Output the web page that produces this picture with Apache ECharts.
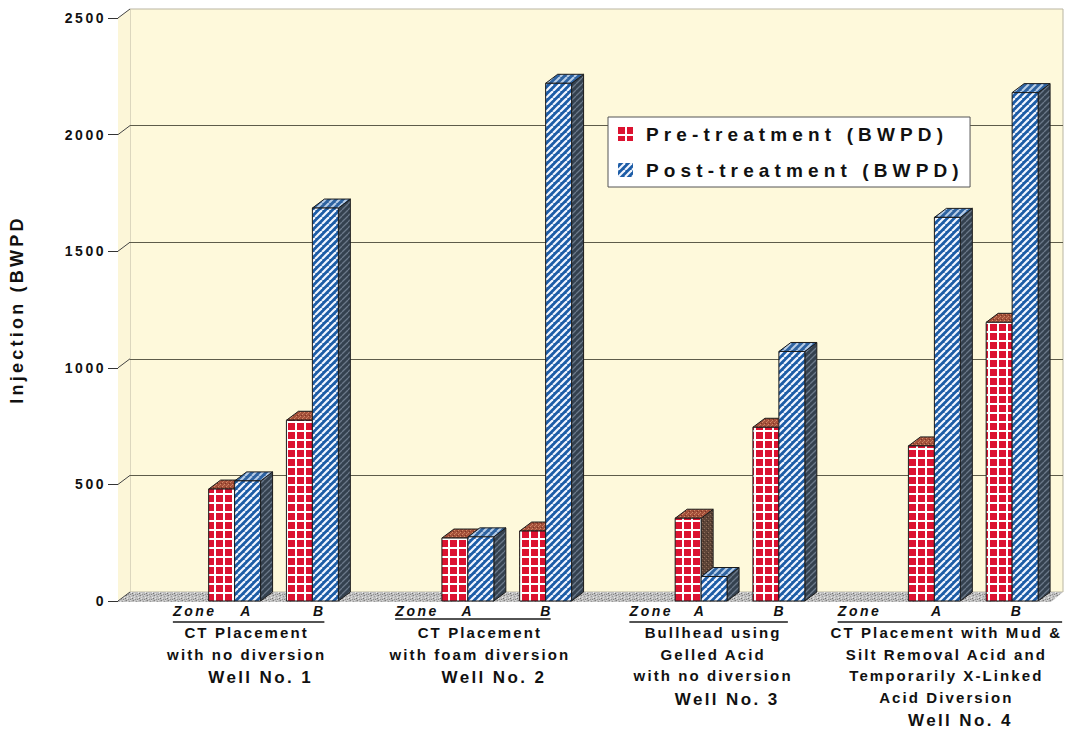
<!DOCTYPE html>
<html>
<head>
<meta charset="utf-8">
<script src="https://cdn.jsdelivr.net/npm/echarts@6/dist/echarts.min.js"></script>
<style>
  html, body { margin: 0; padding: 0; background: #ffffff; }
  #chart { width: 1078px; height: 731px; }
  /* wide-tracked lettering of the printed figure */
  #chart text { letter-spacing: 0.18em; }
  #chart text[style*="Arimo"] { letter-spacing: 0.27em; }
  #chart text[style*="Helvetica"] { letter-spacing: 0.14em; }
</style>
</head>
<body>
<div id="chart"></div>
<script>
// ---- data ----
const slotLabels = ['Zone', 'A', 'B', 'Zone', 'A', 'B', 'Zone', 'A', 'B', 'Zone', 'A', 'B'];
const wellNames = ['Well No. 1', 'Well No. 2', 'Well No. 3', 'Well No. 4'];
const wellDescriptions = [
  ['CT Placement', 'with no diversion'],
  ['CT Placement', 'with foam diversion'],
  ['Bullhead using', 'Gelled Acid', 'with no diversion'],
  ['CT Placement with Mud &', 'Silt Removal Acid and', 'Temporarily X-Linked', 'Acid Diversion']
];
// slot index of each zone bar pair (A and B of every well)
const zoneSlots = [1, 2, 4, 5, 7, 8, 10, 11];
const preTreatment = [480, 775, 270, 300, 355, 745, 665, 1195];
const postTreatment = [515, 1685, 275, 2220, 105, 1070, 1645, 2180];
const yTicks = [0, 500, 1000, 1500, 2000, 2500];
const seriesNames = ['Pre-treatment (BWPD)', 'Post-treatment (BWPD)'];
const yAxisTitle = 'Injection (BWPD';

// ---- layout & style ----
const DX = 12, DY = 9;              // depth offset of the 3D box
const BAR_FRACTION = 0.334;          // bar width as share of a slot
const FONT = '"Liberation Sans", sans-serif';
const LEGEND_FONT = '"Liberation Sans", Arimo';
const NOTE_FONT = '"Liberation Sans", Helvetica';
const INK = '#111111';
const slotLabelShift = [38, 12, 7, 27, 0, 1, 28, -1, 1, 3, 3, 5];
const underlineStart = [16, 5, 6, -19];   // relative to the Zone slot centre
const underlineEnd = [12, 5, 9, 50];      // relative to the B slot centre
const underlineDrop = [21, 18, 21, 21];

function tile(w, h, draw) {
  const c = document.createElement('canvas');
  c.width = w; c.height = h;
  draw(c.getContext('2d'), w, h);
  return { image: c, repeat: 'repeat', imageWidth: w, imageHeight: h };
}
function stripes(w, bg, fg, lw) {
  return tile(w, w, (g) => {
    g.fillStyle = bg; g.fillRect(0, 0, w, w);
    g.strokeStyle = fg; g.lineWidth = lw;
    for (let k = -1; k <= 1; k++) {
      g.beginPath(); g.moveTo(k * w, w); g.lineTo(k * w + w, 0); g.stroke();
    }
  });
}
function speckle(w, h, bg, dots) {
  return tile(w, h, (g) => {
    g.fillStyle = bg; g.fillRect(0, 0, w, h);
    dots.forEach(([x, y, c]) => { g.fillStyle = c; g.fillRect(x, y, 1, 1); });
  });
}

const pat = {
  preFront: tile(9, 9, (g) => {
    g.fillStyle = '#ffffff'; g.fillRect(0, 0, 9, 9);
    g.fillStyle = '#dc1230'; g.fillRect(0, 0, 7, 7);
  }),
  preTop: speckle(4, 4, '#a4503a', [[0, 0, '#d08a68'], [2, 2, '#d08a68'], [1, 3, '#7a3626'], [3, 1, '#c47458']]),
  preSide: speckle(4, 4, '#5d4437', [[0, 0, '#8d6c5a'], [2, 2, '#8d6c5a'], [3, 1, '#3e2c24']]),
  postFront: stripes(7, '#1c5ca6', '#f2f6ff', 2.2),
  postTop: stripes(7, '#2d62a0', '#b8cde6', 2),
  postSide: stripes(6, '#34414f', '#6b798a', 1.3),
  floor: speckle(7, 5, '#bfbfbf', [
    [0, 0, '#7e7e7e'], [3, 1, '#9a9a9a'], [1, 3, '#e4e4e4'], [4, 4, '#858585'], [6, 3, '#6f6f6f'],
    [5, 2, '#ececec'], [2, 4, '#949494'], [1, 1, '#dedede'], [4, 0, '#d8d8d8'], [6, 0, '#a6a6a6']
  ])
};
const faces = [
  { front: pat.preFront, top: pat.preTop, side: pat.preSide },
  { front: pat.postFront, top: pat.postTop, side: pat.postSide }
];
const EDGE = '#1b1b1b';

function barRenderer(slot) {
  const f = faces[slot];
  return function (params, api) {
    const cat = api.value(0), v = api.value(1);
    const bw = api.size([1, 0])[0] * BAR_FRACTION;
    const topPt = api.coord([cat, v]);
    const basePt = api.coord([cat, 0]);
    const x0 = topPt[0] + (slot === 0 ? -bw : 0), x1 = x0 + bw;
    const yT = topPt[1], yB = basePt[1];
    const edge = { stroke: EDGE, lineWidth: 1 };
    return {
      type: 'group',
      children: [
        { type: 'polygon', shape: { points: [[x1, yT], [x1 + DX, yT - DY], [x1 + DX, yB - DY], [x1, yB]] },
          style: Object.assign({ fill: f.side }, edge) },
        { type: 'polygon', shape: { points: [[x0, yT], [x0 + DX, yT - DY], [x1 + DX, yT - DY], [x1, yT]] },
          style: Object.assign({ fill: f.top }, edge) },
        { type: 'rect', shape: { x: x0, y: yT, width: bw, height: yB - yT },
          style: Object.assign({ fill: f.front }, edge) }
      ]
    };
  };
}

function renderBox(params, api) {
  const cs = params.coordSys;
  const L = cs.x, T = cs.y, R = cs.x + cs.width, B = cs.y + cs.height;
  const children = [
    { type: 'polygon', shape: { points: [[L, B], [L, T], [L + DX, T - DY], [L + DX, B - DY]] },
      style: { fill: '#fcf6d8' } },
    { type: 'polygon', shape: { points: [[L, B + 1], [R, B + 1], [R + DX, B - DY], [L + DX, B - DY]] },
      style: { fill: pat.floor } }
  ];
  yTicks.forEach((t) => {
    const y = api.coord([0, t])[1];
    children.push({ type: 'line', shape: { x1: L, y1: y, x2: L + DX, y2: y - DY },
      style: { stroke: '#444', lineWidth: 1 } });
  });
  return { type: 'group', children };
}

function renderUnderline(params, api) {
  const w = api.value(0);
  const zx = api.coord([3 * w, 0]);
  const bx = api.coord([3 * w + 2, 0]);
  const y = zx[1] + underlineDrop[w];
  return { type: 'line',
    shape: { x1: zx[0] + underlineStart[w], y1: y, x2: bx[0] + underlineEnd[w], y2: y },
    style: { stroke: '#1a1a1a', lineWidth: 1.5 } };
}

const slotRich = {};
slotLabelShift.forEach((s, i) => {
  slotRich['s' + i] = {
    fontFamily: FONT, fontSize: 14, fontWeight: 'bold', fontStyle: 'italic', color: INK,
    padding: s >= 0 ? [0, 0, 0, 2 * s] : [0, -2 * s, 0, 0]
  };
});

const chart = echarts.init(document.getElementById('chart'), null, { renderer: 'svg' });
chart.setOption({
  animation: false,
  backgroundColor: '#ffffff',
  grid: [
    { left: 118, top: 18, width: 933, height: 583, outerBoundsMode: 'none' },
    { left: 130, top: 9, width: 933, height: 583, outerBoundsMode: 'none', show: true,
      backgroundColor: '#fef9db', borderColor: '#b9b5a2', borderWidth: 1 }
  ],
  legend: {
    orient: 'vertical', left: 608, top: 117,
    padding: [6, 114, 6, 10], itemGap: 14, itemWidth: 15, itemHeight: 14,
    backgroundColor: '#ffffff', borderColor: '#555555', borderWidth: 1, borderRadius: 0,
    selectedMode: false,
    textStyle: { fontFamily: LEGEND_FONT, fontWeight: 'bold', fontSize: 19, color: INK,
      lineHeight: 22, padding: [0, 0, 0, 8] },
    data: [
      { name: seriesNames[0], icon: 'rect', itemStyle: { color: pat.preFront, borderWidth: 0 } },
      { name: seriesNames[1], icon: 'rect', itemStyle: { color: pat.postFront, borderWidth: 0 } }
    ]
  },
  xAxis: [
    { type: 'category', gridIndex: 0, data: slotLabels, boundaryGap: true,
      axisLine: { show: false }, axisTick: { show: false }, splitLine: { show: false },
      axisLabel: { interval: 0, margin: 3, formatter: (v, i) => '{s' + i + '|' + v + '}', rich: slotRich } },
    { type: 'category', gridIndex: 1, data: wellNames, boundaryGap: true,
      axisLine: { show: false }, axisTick: { show: false }, splitLine: { show: false },
      axisLabel: {
        interval: 0, margin: 30, color: INK,
        formatter: (v, i) => wellDescriptions[i].map((l) => '{d|' + l + '}').join('\n') + '\n{w|' + v + '}',
        rich: {
          d: { fontFamily: NOTE_FONT, fontSize: 15, fontWeight: 'bold', color: INK, lineHeight: 21.5 },
          w: { fontFamily: NOTE_FONT, fontSize: 17, fontWeight: 'bold', color: INK, lineHeight: 25,
            padding: [0, 0, 0, 28] }
        }
      } }
  ],
  yAxis: [
    { type: 'value', gridIndex: 0, min: 0, max: 2500, interval: 500,
      name: yAxisTitle, nameLocation: 'middle', nameGap: 92, nameRotate: 90,
      nameTextStyle: { fontFamily: FONT, fontSize: 18, fontWeight: 'bold', color: INK },
      axisLine: { show: true, lineStyle: { color: '#555', width: 1, type: [2, 1] } },
      axisTick: { show: true, length: 10, lineStyle: { color: '#333', width: 1 } },
      splitLine: { show: false },
      axisLabel: { margin: 12, fontFamily: FONT, fontSize: 14, fontWeight: 'bold', color: INK,
        formatter: (v) => String(v) } },
    { type: 'value', gridIndex: 1, min: 0, max: 2500, interval: 500,
      axisLine: { show: false }, axisTick: { show: false }, axisLabel: { show: false },
      splitLine: { show: true, lineStyle: {
        color: ['rgba(0,0,0,0)', '#5e5c4a', '#5e5c4a', '#5e5c4a', '#5e5c4a', 'rgba(0,0,0,0)'], width: 1 } } }
  ],
  series: [
    { type: 'custom', name: 'box', xAxisIndex: 0, yAxisIndex: 0, z: 1, silent: true,
      renderItem: renderBox, data: [[0, 0]] },
    { type: 'custom', name: seriesNames[0], xAxisIndex: 0, yAxisIndex: 0, z: 3,
      itemStyle: { color: pat.preFront },
      renderItem: barRenderer(0), data: zoneSlots.map((s, i) => [s, preTreatment[i]]) },
    { type: 'custom', name: seriesNames[1], xAxisIndex: 0, yAxisIndex: 0, z: 4,
      itemStyle: { color: pat.postFront },
      renderItem: barRenderer(1), data: zoneSlots.map((s, i) => [s, postTreatment[i]]) },
    { type: 'custom', name: 'zones', xAxisIndex: 0, yAxisIndex: 0, z: 3, silent: true,
      renderItem: renderUnderline, data: wellNames.map((n, i) => [i]) }
  ]
});
</script>
</body>
</html>
